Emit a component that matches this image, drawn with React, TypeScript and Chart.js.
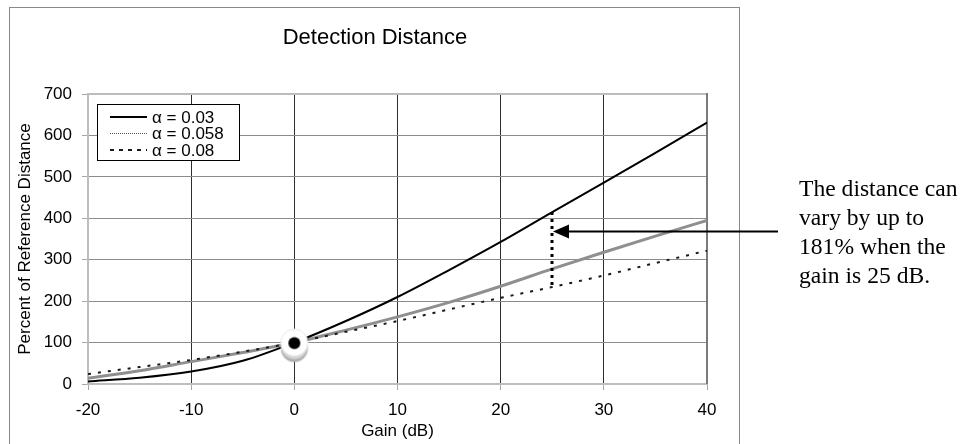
import React, { useEffect, useRef } from 'react';
import { Chart, registerables } from 'chart.js';

Chart.register(...registerables);

// ---- data ----
const gains = [-20, -15, -10, -5, 0, 5, 10, 15, 20, 25, 30, 35, 40];
const alpha003 = [6, 15, 30, 56, 100, 152, 210, 275, 343, 415, 486, 558, 631];
const alpha0058 = [14, 32, 54, 76, 100, 130, 162, 197, 236, 278, 318, 357, 395];
const alpha008 = [24, 41, 58, 78, 100, 126, 152, 180, 208, 234, 262, 292, 322];
const seriesLabels = ['α = 0.03', 'α = 0.058', 'α = 0.08'];

const xMin = -20;
const xMax = 40;
const xStep = 10;
const yMin = 0;
const yMax = 700;
const yStep = 100;

const markerGain = [0];
const markerValue = [100];

const annotationGain = 25;
const arrowValue = 369;
const annotationLines = ['The distance can', 'vary by up to', '181% when the', 'gain is 25 dB.'];

const chartTitle = 'Detection Distance';
const xTitle = 'Gain (dB)';
const yTitle = 'Percent of Reference Distance';

const SANS = "'Liberation Sans', Arial, Helvetica, sans-serif";
const SERIF = "'Liberation Serif', 'Times New Roman', serif";

function makeMarker(): HTMLCanvasElement {
  const c = document.createElement('canvas');
  c.width = 34;
  c.height = 44;
  const g = c.getContext('2d') as CanvasRenderingContext2D;
  const cx = 17;
  const cy = 22;
  const r = 13.5;
  g.fillStyle = '#b0b0b0';
  g.beginPath();
  g.arc(cx, cy + 6, r, 0, Math.PI * 2);
  g.fill();
  g.fillStyle = '#d4d4d4';
  g.beginPath();
  g.arc(cx, cy + 3, r, 0, Math.PI * 2);
  g.fill();
  g.fillStyle = '#ffffff';
  g.beginPath();
  g.arc(cx, cy, r, 0, Math.PI * 2);
  g.fill();
  g.strokeStyle = '#e6e6e6';
  g.lineWidth = 1;
  g.stroke();
  g.fillStyle = '#000000';
  g.beginPath();
  g.arc(cx, cy + 0.5, 6, 0, Math.PI * 2);
  g.fill();
  return c;
}

const decorPlugin = {
  id: 'decor',
  beforeDraw(chart: any) {
    const ctx = chart.ctx as CanvasRenderingContext2D;
    ctx.save();
    ctx.fillStyle = '#ffffff';
    ctx.fillRect(0, 0, chart.width, chart.height);
    ctx.strokeStyle = '#8a8a8a';
    ctx.lineWidth = 1;
    ctx.strokeRect(9.5, 7.5, 730, 480);
    ctx.restore();
  },
  beforeDatasetsDraw(chart: any) {
    const ctx = chart.ctx as CanvasRenderingContext2D;
    const a = chart.chartArea;
    ctx.save();
    ctx.lineWidth = 2;
    ctx.strokeStyle = '#bdbdbd';
    ctx.beginPath();
    ctx.moveTo(a.left - 1, a.top);
    ctx.lineTo(a.right, a.top);
    ctx.stroke();
    ctx.strokeStyle = '#7a7a7a';
    ctx.beginPath();
    ctx.moveTo(a.right, a.top - 1);
    ctx.lineTo(a.right, a.bottom);
    ctx.stroke();
    ctx.restore();
  },
  afterDatasetsDraw(chart: any) {
    const ctx = chart.ctx as CanvasRenderingContext2D;
    // legend box
    ctx.save();
    ctx.fillStyle = '#ffffff';
    ctx.fillRect(97.5, 104.5, 142, 56);
    ctx.strokeStyle = '#000000';
    ctx.lineWidth = 1;
    ctx.strokeRect(97.5, 104.5, 142, 56);
    const items = chart.data.datasets.filter((d: any) => d.label && d.label.length > 0);
    const ys = [117, 133.5, 150];
    items.forEach((d: any, i: number) => {
      const y = ys[i];
      ctx.save();
      ctx.strokeStyle = d.legendColor || d.borderColor;
      ctx.lineWidth = d.legendWidth || d.borderWidth;
      ctx.setLineDash(d.legendDash || d.borderDash || []);
      ctx.beginPath();
      ctx.moveTo(110, y);
      ctx.lineTo(147, y);
      ctx.stroke();
      ctx.restore();
      ctx.fillStyle = '#000000';
      ctx.font = `17px ${SANS}`;
      ctx.textAlign = 'left';
      ctx.textBaseline = 'middle';
      ctx.fillText(d.label, 152, y + 1);
    });
    ctx.restore();
  },
  afterDraw(chart: any) {
    const ctx = chart.ctx as CanvasRenderingContext2D;
    const a = chart.chartArea;
    const xs = chart.scales.x;
    const ysc = chart.scales.y;
    ctx.save();
    // titles
    ctx.fillStyle = '#000000';
    ctx.textAlign = 'center';
    ctx.textBaseline = 'middle';
    ctx.font = `22px ${SANS}`;
    ctx.fillText(chartTitle, 375, 38);
    ctx.font = `17px ${SANS}`;
    ctx.fillText(xTitle, (a.left + a.right) / 2, 431);
    ctx.save();
    ctx.translate(25, (a.top + a.bottom) / 2);
    ctx.rotate(-Math.PI / 2);
    ctx.fillText(yTitle, 0, 0);
    ctx.restore();

    // annotation dotted vertical line
    const idx = gains.indexOf(annotationGain);
    const px = Math.round(xs.getPixelForValue(annotationGain));
    const yTop = ysc.getPixelForValue(alpha003[idx]);
    const yBot = ysc.getPixelForValue(alpha008[idx]);
    ctx.strokeStyle = '#000000';
    ctx.lineWidth = 3;
    ctx.setLineDash([3, 4]);
    ctx.beginPath();
    ctx.moveTo(px, yTop);
    ctx.lineTo(px, yBot);
    ctx.stroke();
    ctx.setLineDash([]);

    // arrow
    const ay = Math.round(ysc.getPixelForValue(arrowValue)) + 0.5;
    const tipX = px + 1;
    ctx.lineWidth = 2;
    ctx.beginPath();
    ctx.moveTo(778, ay);
    ctx.lineTo(tipX + 12, ay);
    ctx.stroke();
    ctx.fillStyle = '#000000';
    ctx.beginPath();
    ctx.moveTo(tipX, ay);
    ctx.lineTo(tipX + 16, ay - 7);
    ctx.lineTo(tipX + 16, ay + 7);
    ctx.closePath();
    ctx.fill();

    // annotation text
    ctx.font = `23.6px ${SERIF}`;
    ctx.textAlign = 'left';
    ctx.textBaseline = 'alphabetic';
    annotationLines.forEach((t, i) => {
      ctx.fillText(t, 799, 196 + i * 29);
    });
    ctx.restore();
  },
};

export default function App() {
  const ref = useRef<HTMLCanvasElement | null>(null);

  useEffect(() => {
    if (!ref.current) return;
    const toXY = (vals: number[]) => gains.map((g, i) => ({ x: g, y: vals[i] }));
    const marker = makeMarker();
    const chart = new Chart(ref.current, {
      type: 'line',
      data: {
        datasets: [
          {
            label: '',
            data: markerGain.map((g, i) => ({ x: g, y: markerValue[i] })),
            showLine: false,
            pointStyle: marker as any,
            pointRadius: 14,
            pointHoverRadius: 14,
            order: 0,
          } as any,
          {
            label: seriesLabels[0],
            data: toXY(alpha003),
            borderColor: '#000000',
            borderWidth: 2,
            pointRadius: 0,
            cubicInterpolationMode: 'monotone',
            order: 2,
          } as any,
          {
            label: seriesLabels[1],
            data: toXY(alpha0058),
            borderColor: '#8f8f8f',
            borderWidth: 3,
            pointRadius: 0,
            cubicInterpolationMode: 'monotone',
            legendColor: '#555555',
            legendWidth: 1,
            legendDash: [1, 1],
            order: 3,
          } as any,
          {
            label: seriesLabels[2],
            data: toXY(alpha008),
            borderColor: '#1a1a1a',
            borderWidth: 2,
            borderDash: [3, 7],
            pointRadius: 0,
            cubicInterpolationMode: 'monotone',
            legendDash: [4, 5],
            order: 1,
          } as any,
        ],
      },
      options: {
        animation: false,
        responsive: false,
        maintainAspectRatio: false,
        devicePixelRatio: 1,
        events: [],
        layout: { padding: { left: 0, top: 94, right: 966 - 707, bottom: 0 } },
        plugins: {
          legend: { display: false },
          title: { display: false },
          tooltip: { enabled: false },
        },
        scales: {
          x: {
            type: 'linear',
            min: xMin,
            max: xMax,
            afterFit: (s: any) => {
              s.height = 60;
            },
            ticks: {
              stepSize: xStep,
              color: '#000000',
              font: { family: SANS, size: 17 },
              padding: 10,
              maxRotation: 0,
            },
            grid: {
              color: (c: any) => (c.tick && (c.tick.value === xMin) ? 'rgba(0,0,0,0)' : '#2e2e2e'),
              tickColor: '#a8a8a8',
              tickLength: 6,
              lineWidth: 1,
            },
            border: { display: true, color: '#bdbdbd', width: 2 },
          },
          y: {
            type: 'linear',
            min: yMin,
            max: yMax,
            afterFit: (s: any) => {
              s.width = 88;
            },
            ticks: {
              stepSize: yStep,
              color: '#000000',
              font: { family: SANS, size: 17 },
              padding: 10,
            },
            grid: {
              color: (c: any) => (c.tick && (c.tick.value === yMin || c.tick.value === yMax) ? 'rgba(0,0,0,0)' : '#8c8c8c'),
              tickColor: '#a8a8a8',
              tickLength: 6,
              lineWidth: 1,
            },
            border: { display: true, color: '#bdbdbd', width: 2 },
          },
        },
      },
      plugins: [decorPlugin],
    });
    return () => chart.destroy();
  }, []);

  return (
    <div style={{ position: 'absolute', left: 0, top: 0, width: 966, height: 444, background: '#fff' }}>
      <canvas ref={ref} width={966} height={444} style={{ display: 'block', width: 966, height: 444 }} />
    </div>
  );
}
